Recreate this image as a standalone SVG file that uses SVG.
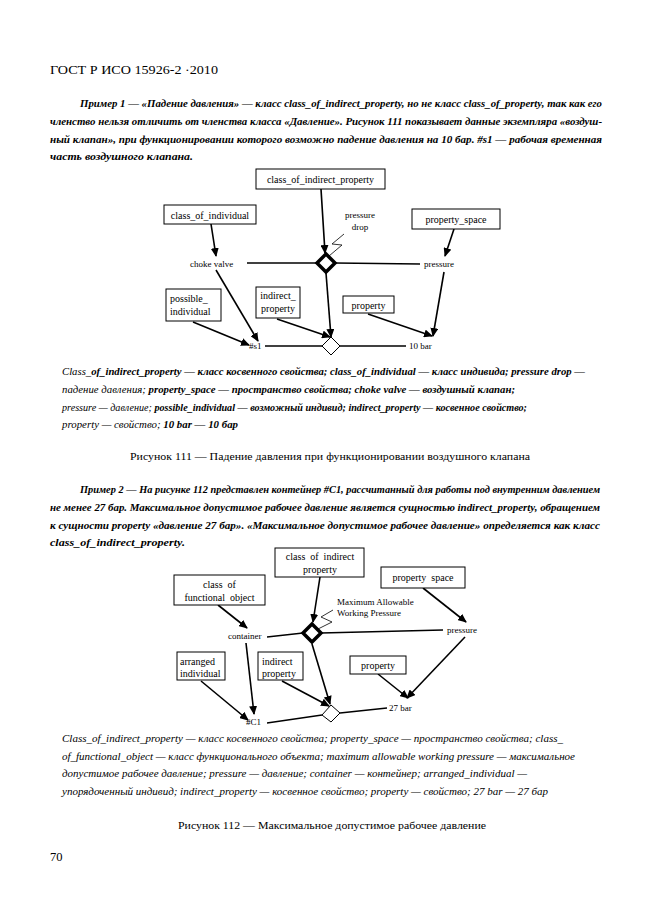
<svg xmlns="http://www.w3.org/2000/svg" width="661" height="913" viewBox="0 0 661 913">
<style>
text{font-family:"Liberation Serif","Times New Roman",serif;fill:#000}
.hd{font-size:12.5px}
.p{font-size:11px;font-weight:bold;font-style:italic}
.lg{font-size:11px;font-style:italic}
.b{font-weight:bold}
.cap{font-size:11px}
.n{font-size:10px;white-space:pre}
.s{font-size:9px;white-space:pre}
.box{fill:#fff;stroke:#000;stroke-width:1}
.ln{fill:none;stroke:#000;stroke-width:1.3}
.ar{fill:none;stroke:#000;stroke-width:1.6;marker-end:url(#ah)}
.zz{fill:none;stroke:#000;stroke-width:0.8}
.dk{fill:#fff;stroke:#000;stroke-width:3.5}
.dh{fill:#fff;stroke:#000;stroke-width:1}
</style>
<defs>
<marker id="ah" markerWidth="9" markerHeight="8" refX="8" refY="4" orient="auto" markerUnits="userSpaceOnUse">
<path d="M0,0 L9,4 L0,8 Z" fill="#000"/>
</marker>
</defs>
<rect width="661" height="913" fill="#fff"/>

<text class="hd" x="50" y="74" textLength="168" lengthAdjust="spacingAndGlyphs">ГОСТ Р ИСО 15926-2 ·2010</text>

<g id="para1">
<text class="p" x="80" y="107" textLength="522" lengthAdjust="spacingAndGlyphs">Пример 1 — «Падение давления» — класс class_of_indirect_property, но не класс class_of_property, так как его</text>
<text class="p" x="50" y="125" textLength="552" lengthAdjust="spacingAndGlyphs">членство нельзя отличить от членства класса «Давление». Рисунок 111 показывает данные экземпляра «воздуш-</text>
<text class="p" x="50" y="143" textLength="552" lengthAdjust="spacingAndGlyphs">ный клапан», при функционировании которого возможно падение давления на 10 бар. #s1 — рабочая временная</text>
<text class="p" x="50" y="160" textLength="143" lengthAdjust="spacingAndGlyphs">часть воздушного клапана.</text>
</g>

<!-- Figure 111 -->
<g id="fig111-connectors">
<line class="ar" x1="321" y1="189" x2="325" y2="253"/>
<line class="ar" x1="211" y1="224" x2="216" y2="256"/>
<line class="ar" x1="216" y1="270" x2="258" y2="341"/>
<line class="ar" x1="193" y1="322" x2="249" y2="345"/>
<line class="ar" x1="277" y1="319" x2="330" y2="337"/>
<line class="ar" x1="326" y1="273" x2="331" y2="337"/>
<line class="ar" x1="368" y1="314" x2="432" y2="336"/>
<line class="ar" x1="454" y1="229" x2="445" y2="256"/>
<line class="ar" x1="444" y1="272" x2="433" y2="336"/>
<line class="ln" x1="247" y1="263" x2="317" y2="263"/>
<line class="ln" x1="335" y1="263" x2="420" y2="264"/>
<line class="ln" x1="265" y1="346" x2="322" y2="346"/>
<line class="ln" x1="340" y1="346" x2="406" y2="346"/>
<polyline class="zz" points="344,234 332,244 342,245 329,256"/>
</g>
<g id="n-coip1"><rect class="box" x="256" y="169" width="129" height="20"/><text class="n" x="320.5" y="183" text-anchor="middle">class_of_indirect_property</text></g>
<g id="n-coi"><rect class="box" x="164" y="205" width="92" height="19"/><text class="n" x="210" y="218.5" text-anchor="middle">class_of_individual</text></g>
<g id="n-ps1"><rect class="box" x="412" y="209" width="88" height="20"/><text class="n" x="456" y="223" text-anchor="middle">property_space</text></g>
<g id="n-pi"><rect class="box" x="166" y="289" width="55" height="32"/><text class="n" x="170" y="302">possible_</text><text class="n" x="170" y="315">individual</text></g>
<g id="n-ip1"><rect class="box" x="256" y="287" width="44" height="31"/><text class="n" x="278" y="299" text-anchor="middle">indirect_</text><text class="n" x="278" y="312" text-anchor="middle">property</text></g>
<g id="n-p1"><rect class="box" x="343" y="296" width="51" height="17"/><text class="n" x="368.5" y="308.5" text-anchor="middle">property</text></g>
<g id="n-cv"><text class="s" x="190" y="267">choke valve</text></g>
<g id="n-pr1"><text class="s" x="424" y="267">pressure</text></g>
<g id="n-pd"><text class="s" x="360" y="218" text-anchor="middle">pressure</text><text class="s" x="360" y="230" text-anchor="middle">drop</text></g>
<g id="n-s1"><text class="s" x="249" y="349">#s1</text></g>
<g id="n-10bar"><text class="s" x="409" y="349">10 bar</text></g>
<g id="n-d1"><polygon class="dk" points="326,254 335,263 326,272 317,263"/></g>
<g id="n-d2"><polygon class="dh" points="331,337 340,346 331,355 322,346"/></g>

<g id="legend1">
<text class="lg" x="62" y="375" textLength="523" lengthAdjust="spacingAndGlyphs">Class_<tspan class="b">of_indirect_property — класс косвенного свойства; class_of_individual — класс индивида; pressure drop —</tspan></text>
<text class="lg" x="62" y="393" textLength="453" lengthAdjust="spacingAndGlyphs">падение давления; <tspan class="b">property_space — пространство свойства; choke valve — воздушный клапан;</tspan></text>
<text class="lg" x="62" y="411" textLength="465" lengthAdjust="spacingAndGlyphs">pressure — давление; <tspan class="b">possible_individual — возможный индивид; indirect_property — косвенное свойство;</tspan></text>
<text class="lg" x="62" y="428" textLength="176" lengthAdjust="spacingAndGlyphs">property — свойство; <tspan class="b">10 bar — 10 бар</tspan></text>
</g>
<text class="cap" x="330" y="460" text-anchor="middle" textLength="400" lengthAdjust="spacingAndGlyphs">Рисунок 111 — Падение давления при функционировании воздушного клапана</text>

<g id="para2">
<text class="p" x="80" y="493" textLength="520" lengthAdjust="spacingAndGlyphs">Пример 2 — На рисунке 112 представлен контейнер #C1, рассчитанный для работы под внутренним давлением</text>
<text class="p" x="50" y="511" textLength="550" lengthAdjust="spacingAndGlyphs">не менее 27 бар. Максимальное допустимое рабочее давление является сущностью indirect_property, обращением</text>
<text class="p" x="50" y="529" textLength="550" lengthAdjust="spacingAndGlyphs">к сущности property «давление 27 бар». «Максимальное допустимое рабочее давление» определяется как класс</text>
<text class="p" x="50" y="546" textLength="135" lengthAdjust="spacingAndGlyphs">class_of_indirect_property.</text>
</g>

<!-- Figure 112 -->
<g id="fig112-connectors">
<line class="ar" x1="320" y1="577" x2="313" y2="622"/>
<line class="ar" x1="312" y1="644" x2="330" y2="704"/>
<line class="ar" x1="218" y1="605" x2="247" y2="628"/>
<line class="ar" x1="246" y1="643" x2="254" y2="714"/>
<line class="ar" x1="201" y1="681" x2="248" y2="720"/>
<line class="ar" x1="282" y1="681" x2="329" y2="706"/>
<line class="ar" x1="423" y1="588" x2="466" y2="622"/>
<line class="ar" x1="465" y1="637" x2="407" y2="698"/>
<line class="ar" x1="378" y1="674" x2="408" y2="698"/>
<line class="ln" x1="267" y1="637" x2="303" y2="633"/>
<line class="ln" x1="321" y1="633" x2="443" y2="630"/>
<line class="ln" x1="267" y1="723" x2="322" y2="715"/>
<line class="ln" x1="340" y1="713" x2="387" y2="708"/>
<polyline class="zz" points="333,610 321,617 332,622 318,629"/>
</g>
<g id="n-coip2"><rect class="box" x="275" y="548" width="89" height="29"/><text class="n" x="320" y="560" text-anchor="middle">class  of  indirect</text><text class="n" x="320" y="573" text-anchor="middle">property</text></g>
<g id="n-cofo"><rect class="box" x="174" y="575" width="91" height="30"/><text class="n" x="219.5" y="588" text-anchor="middle">class  of</text><text class="n" x="219.5" y="601" text-anchor="middle">functional  object</text></g>
<g id="n-ai"><rect class="box" x="177" y="652" width="48" height="28"/><text class="n" x="180" y="665">arranged</text><text class="n" x="180" y="677">individual</text></g>
<g id="n-ip2"><rect class="box" x="258" y="652" width="45" height="28"/><text class="n" x="262" y="665">indirect</text><text class="n" x="262" y="677">property</text></g>
<g id="n-ps2"><rect class="box" x="381" y="567" width="84" height="21"/><text class="n" x="423" y="581" text-anchor="middle">property  space</text></g>
<g id="n-p2"><rect class="box" x="350" y="656" width="56" height="18"/><text class="n" x="378" y="669" text-anchor="middle">property</text></g>
<g id="n-cont"><text class="s" x="228" y="639">container</text></g>
<g id="n-pr2"><text class="s" x="447" y="633">pressure</text></g>
<g id="n-mawp"><text class="s" x="337" y="605">Maximum Allowable</text><text class="s" x="337" y="616">Working Pressure</text></g>
<g id="n-c1"><text class="s" x="246" y="725">#C1</text></g>
<g id="n-27bar"><text class="s" x="389" y="711">27 bar</text></g>
<g id="n-d3"><polygon class="dk" points="312,624 321,633 312,642 303,633"/></g>
<g id="n-d4"><polygon class="dh" points="331,705 340,713 331,722 322,715"/></g>

<g id="legend2">
<text class="lg" x="62" y="742" textLength="501" lengthAdjust="spacingAndGlyphs">Class_of_indirect_property — класс косвенного свойства; property_space — пространство свойства; class_</text>
<text class="lg" x="62" y="760" textLength="513" lengthAdjust="spacingAndGlyphs">of_functional_object — класс функционального объекта; maximum allowable working pressure — максимальное</text>
<text class="lg" x="62" y="777" textLength="465" lengthAdjust="spacingAndGlyphs">допустимое рабочее давление; pressure — давление; container — контейнер; arranged_individual —</text>
<text class="lg" x="62" y="795" textLength="486" lengthAdjust="spacingAndGlyphs">упорядоченный индивид; indirect_property — косвенное свойство; property — свойство; 27 bar — 27 бар</text>
</g>
<text class="cap" x="332" y="829" text-anchor="middle" textLength="308" lengthAdjust="spacingAndGlyphs">Рисунок 112 — Максимальное допустимое рабочее давление</text>

<text class="hd" x="50" y="861">70</text>
</svg>
